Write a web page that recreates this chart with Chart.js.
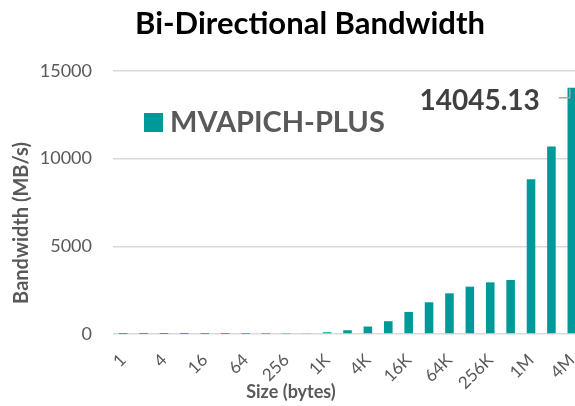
<!DOCTYPE html>
<html>
<head>
<meta charset="utf-8">
<script src="https://cdn.jsdelivr.net/npm/chart.js@4"></script>
<style>
    html, body { margin: 0; padding: 0; overflow: hidden; background: #fff; }
    #wrap { width: 582px; height: 406px; }
</style>
</head>
<body>
<div id="wrap"><canvas id="bw-chart"></canvas></div>
<script>
const sizes = ['1', '2', '4', '8', '16', '32', '64', '128', '256', '512', '1K', '2K', '4K', '8K',
    '16K', '32K', '64K', '128K', '256K', '512K', '1M', '2M', '4M'];
const bandwidth = [0.1, 0.2, 0.4, 0.8, 1.6, 3.2, 6.3, 12.5, 25, 50, 100, 215, 425, 730,
    1260, 1810, 2320, 2700, 2945, 3080, 8820, 10690, 14045.13];
const yTicks = [0, 5000, 10000, 15000];
const seriesName = 'MVAPICH-PLUS';
const titleText = 'Bi-Directional Bandwidth';
const xTitle = 'Size (bytes)';
const yTitle = 'Bandwidth (MB/s)';

const grey = '#595959';
const teal = '#009999';

// title, axis titles, legend inside the plot and the moved data label on the last bar
const overlay = {
    id: 'overlay',
    afterDraw(chart) {
        const ctx = chart.ctx;
        ctx.save();
        ctx.textBaseline = 'middle';
        ctx.textAlign = 'center';
        ctx.fillStyle = '#000';
        ctx.font = 'bold 31px Lato';
        ctx.fillText(titleText, 310, 24);

        ctx.fillStyle = grey;
        ctx.font = 'bold 18px Lato';
        ctx.fillText(xTitle, 291, 392);
        ctx.save();
        ctx.translate(22, 223);
        ctx.rotate(-Math.PI / 2);
        ctx.font = 'bold 20px Lato';
        ctx.fillText(yTitle, 0, 0);
        ctx.restore();

        const ds = chart.data.datasets[0];
        ctx.fillStyle = ds.backgroundColor;
        ctx.fillRect(144, 113, 19, 19);
        ctx.fillStyle = grey;
        ctx.font = 'bold 29px Lato';
        ctx.textAlign = 'left';
        ctx.fillText(ds.label, 170, 123);

        const meta = chart.getDatasetMeta(0);
        const last = meta.data.length - 1;
        const bar = meta.data[last];
        ctx.strokeStyle = '#a6a6a6';
        ctx.lineWidth = 1.5;
        ctx.beginPath();
        ctx.moveTo(bar.x - 13, bar.y + 10);
        ctx.lineTo(bar.x - 2, bar.y + 10);
        ctx.lineTo(bar.x - 2, bar.y + 1);
        ctx.stroke();
        ctx.fillStyle = '#404040';
        ctx.font = 'bold 28px Lato';
        ctx.textAlign = 'right';
        ctx.fillText(String(ds.data[last]), bar.x - 32, bar.y + 13);
        ctx.restore();
    }
};

new Chart(document.getElementById('bw-chart').getContext('2d'), {
    type: 'bar',
    data: {
        labels: sizes,
        datasets: [{
            label: seriesName,
            backgroundColor: teal,
            data: bandwidth,
            categoryPercentage: 1,
            barPercentage: 0.42,
        }]
    },
    options: {
        responsive: true,
        maintainAspectRatio: false,
        animation: false,
        layout: {
            padding: { top: 71, left: 0, right: 0, bottom: 0 }
        },
        plugins: {
            legend: { display: false },
            title: { display: false },
            tooltip: { enabled: false }
        },
        scales: {
            x: {
                afterFit: (axis) => {
                    axis.height = 72;
                    axis.paddingLeft = 0;
                    axis.paddingRight = 0;
                },
                grid: { display: false },
                border: { display: false },
                ticks: {
                    autoSkip: false,
                    minRotation: 45,
                    maxRotation: 45,
                    padding: 8,
                    color: grey,
                    font: { family: 'Lato', size: 17 },
                    callback: (v, i) => (i % 2 === 0 ? sizes[i] : '')
                }
            },
            y: {
                min: 0,
                max: 15000,
                afterFit: (axis) => {
                    axis.width = 113;
                    axis.paddingTop = 0;
                    axis.paddingBottom = 0;
                },
                afterBuildTicks: (axis) => {
                    axis.ticks = yTicks.map((v) => ({ value: v }));
                },
                grid: { color: '#d9d9d9', lineWidth: 1.5, drawTicks: false },
                border: { display: false },
                ticks: {
                    padding: 21,
                    color: grey,
                    font: { family: 'Lato', size: 18 },
                    callback: (v) => String(v)
                }
            }
        }
    },
    plugins: [overlay]
});
</script>
</body>
</html>
